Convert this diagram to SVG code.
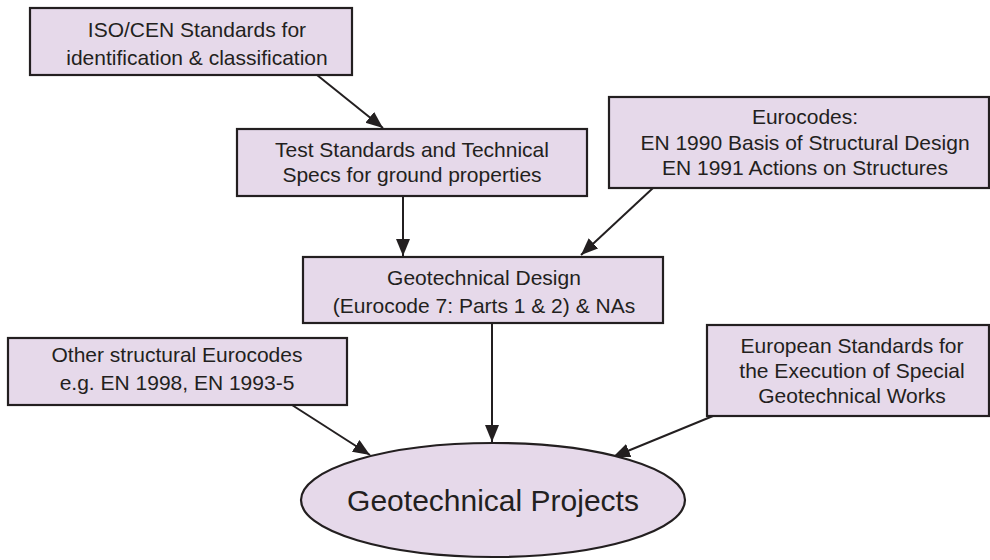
<svg xmlns="http://www.w3.org/2000/svg" width="990" height="560" viewBox="0 0 990 560">
<style>
.box{fill:#e6d9ea;stroke:#231f20;stroke-width:2.2}
.t{font-family:"Liberation Sans",Arial,sans-serif;font-size:21px;fill:#231f20;text-anchor:middle}
.big{font-size:30px}
.c{stroke:#231f20;stroke-width:2;fill:none;marker-end:url(#ah)}
</style>
<defs>
<marker id="ah" markerUnits="userSpaceOnUse" markerWidth="18" markerHeight="16" refX="17" refY="7" orient="auto">
<path d="M0,0 L17,7 L0,14 Z" fill="#231f20"/>
</marker>
</defs>
<g id="connectors">
<line class="c" x1="317" y1="75" x2="383" y2="128"/>
<line class="c" x1="403" y1="196" x2="403" y2="256"/>
<line class="c" x1="653" y1="188" x2="581" y2="255"/>
<line class="c" x1="492" y1="323" x2="492" y2="442"/>
<line class="c" x1="292" y1="405" x2="370" y2="455"/>
<line class="c" x1="713" y1="416" x2="613" y2="457"/>
</g>
<g id="iso">
<rect class="box" x="30" y="8" width="322" height="67"/>
<text class="t" x="197" y="37">ISO/CEN Standards for</text>
<text class="t" x="197" y="65">identification &amp; classification</text>
</g>
<g id="test">
<rect class="box" x="237" y="129" width="350" height="67"/>
<text class="t" x="412" y="157">Test Standards and Technical</text>
<text class="t" x="412" y="182">Specs for ground properties</text>
</g>
<g id="eurocodes">
<rect class="box" x="609" y="97" width="380" height="91"/>
<text class="t" x="805" y="124">Eurocodes:</text>
<text class="t" x="805" y="150">EN 1990 Basis of Structural Design</text>
<text class="t" x="805" y="175">EN 1991 Actions on Structures</text>
</g>
<g id="geodesign">
<rect class="box" x="303" y="257" width="360" height="66"/>
<text class="t" x="484" y="285">Geotechnical Design</text>
<text class="t" x="484" y="313">(Eurocode 7: Parts 1 &amp; 2) &amp; NAs</text>
</g>
<g id="other">
<rect class="box" x="8" y="338" width="339" height="67"/>
<text class="t" x="177" y="362">Other structural Eurocodes</text>
<text class="t" x="177" y="390">e.g. EN 1998, EN 1993-5</text>
</g>
<g id="execution">
<rect class="box" x="707" y="325" width="282" height="91"/>
<text class="t" x="852" y="353">European Standards for</text>
<text class="t" x="852" y="378">the Execution of Special</text>
<text class="t" x="852" y="403">Geotechnical Works</text>
</g>
<g id="projects">
<ellipse class="box" cx="493" cy="500" rx="192" ry="57"/>
<text class="t big" x="493" y="511">Geotechnical Projects</text>
</g>
</svg>
